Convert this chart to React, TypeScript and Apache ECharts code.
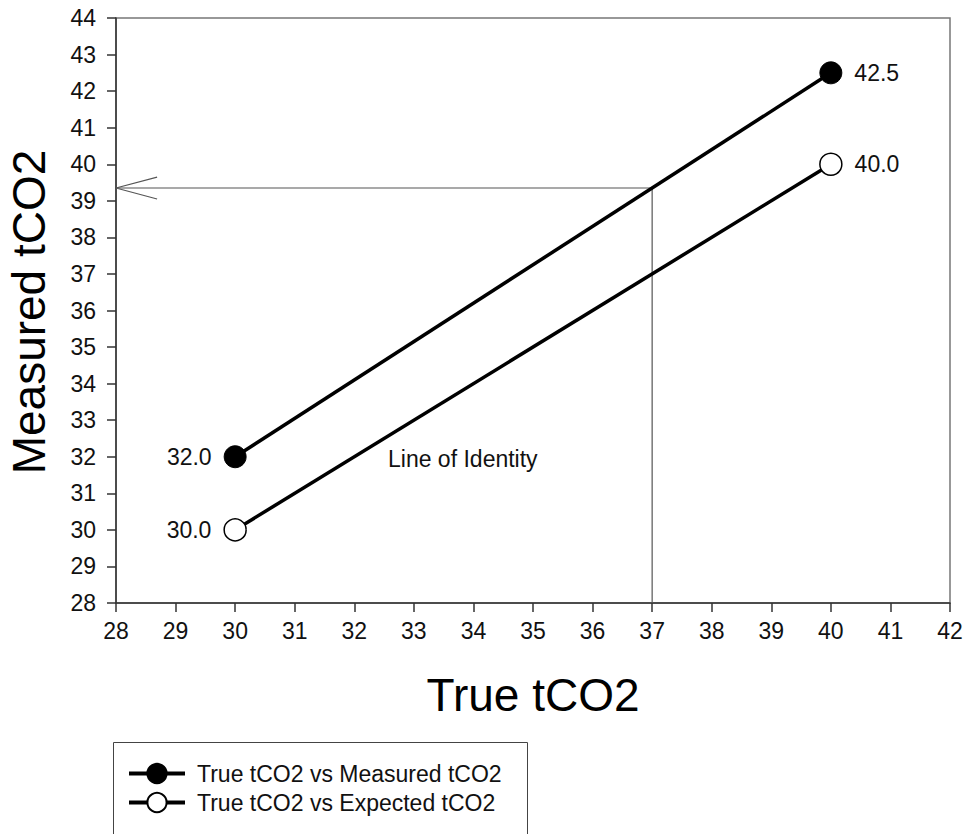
import React, { useEffect, useRef } from "react";
import * as echarts from "echarts";

const FONT = "'Liberation Sans', Arial, sans-serif";

const xTicksMin = 28;
const xTicksMax = 42;
const yTicksMin = 28;
const yTicksMax = 44;

const trueTco2 = [30, 40];
const measuredTco2 = [32.0, 42.5];
const expectedTco2 = [30.0, 40.0];

const seriesNames = ["True tCO2 vs Measured tCO2", "True tCO2 vs Expected tCO2"];

// reading line: at true tCO2 = 37 the measured line gives ~39.35
const readX = 37;
const readY = 39.35;

export default function App() {
  const ref = useRef<HTMLDivElement>(null);

  useEffect(() => {
    document.body.style.margin = "0";
    const chart = echarts.init(ref.current!, null, { renderer: "svg" });

    const measuredData = trueTco2.map((x, i) => [x, measuredTco2[i]]);
    const expectedData = trueTco2.map((x, i) => [x, expectedTco2[i]]);

    const labelFor = (i: number) => ({
      show: true,
      position: i === 0 ? "left" : "right",
      distance: 12,
      color: "#111",
      fontSize: 23,
      fontFamily: FONT,
      formatter: (p: any) => Number(p.value[1]).toFixed(1),
    });

    const arrowLen = 0.69; // in x units
    const arrowHalf = 0.3; // in y units

    chart.setOption({
      animation: false,
      backgroundColor: "#fff",
      grid: {
        left: 116,
        right: 17,
        top: 18,
        bottom: 231,
        show: true,
        borderColor: "#777",
        borderWidth: 1.5,
        backgroundColor: "transparent",
      },
      xAxis: {
        type: "value",
        min: xTicksMin,
        max: xTicksMax,
        interval: 1,
        axisLine: { show: true, onZero: false, lineStyle: { color: "#333", width: 1.5 } },
        axisTick: { show: true, length: 9, lineStyle: { color: "#333", width: 1.5 } },
        axisLabel: { color: "#111", fontSize: 23, fontFamily: FONT, margin: 16 },
        splitLine: { show: false },
      },
      yAxis: {
        type: "value",
        min: yTicksMin,
        max: yTicksMax,
        interval: 1,
        axisLine: { show: true, onZero: false, lineStyle: { color: "#333", width: 1.5 } },
        axisTick: { show: true, length: 9, lineStyle: { color: "#333", width: 1.5 } },
        axisLabel: { color: "#111", fontSize: 23, fontFamily: FONT, margin: 20 },
        splitLine: { show: false },
      },
      legend: {
        data: seriesNames,
        orient: "vertical",
        left: 113,
        top: 762,
        padding: [0, 0, 0, 14],
        itemGap: 6,
        itemWidth: 56,
        itemHeight: 24,
        lineStyle: { width: 4 },
        textStyle: { color: "#111", fontSize: 23, fontFamily: FONT, padding: [0, 0, 0, 7] },
      },
      series: [
        {
          name: "reading",
          type: "line",
          data: [
            [xTicksMin, readY],
            [readX, readY],
            [readX, yTicksMin],
          ],
          symbol: "none",
          lineStyle: { color: "#555", width: 1.2 },
          silent: true,
          z: 1,
        },
        {
          name: "arrowhead",
          type: "line",
          data: [
            [xTicksMin + arrowLen, readY + arrowHalf],
            [xTicksMin, readY],
            [xTicksMin + arrowLen, readY - arrowHalf],
          ],
          symbol: "none",
          lineStyle: { color: "#555", width: 1.2 },
          silent: true,
          z: 1,
        },
        {
          name: seriesNames[0],
          type: "line",
          data: measuredData.map((d, i) => ({ value: d, label: labelFor(i) })),
          symbol: "circle",
          symbolSize: 22,
          lineStyle: { color: "#000", width: 3.5 },
          itemStyle: { color: "#000", borderColor: "#000", borderWidth: 1 },
          z: 3,
        },
        {
          name: seriesNames[1],
          type: "line",
          data: expectedData.map((d, i) => ({ value: d, label: labelFor(i) })),
          symbol: "circle",
          symbolSize: 22,
          lineStyle: { color: "#000", width: 3.5 },
          itemStyle: { color: "#fff", borderColor: "#000", borderWidth: 1.5 },
          z: 3,
        },
      ],
      graphic: [
        {
          type: "rect",
          shape: { x: 113.5, y: 742.5, width: 414, height: 140 },
          style: { fill: "none", stroke: "#444", lineWidth: 1 },
          silent: true,
        },
        {
          type: "text",
          left: 388,
          top: 447,
          style: { text: "Line of Identity", fontSize: 23, fontFamily: FONT, fill: "#111" },
        },
        {
          type: "text",
          x: 533,
          y: 695,
          style: {
            text: "True tCO2",
            fontSize: 46,
            fontFamily: FONT,
            fill: "#000",
            align: "center",
            verticalAlign: "middle",
          },
        },
        {
          type: "text",
          x: 29,
          y: 312,
          rotation: Math.PI / 2,
          style: {
            text: "Measured tCO2",
            fontSize: 46,
            fontFamily: FONT,
            fill: "#000",
            align: "center",
            verticalAlign: "middle",
          },
        },
      ],
    });

    return () => chart.dispose();
  }, []);

  return (
    <div
      ref={ref}
      style={{ position: "fixed", left: 0, top: 0, width: 967, height: 834 }}
    />
  );
}
